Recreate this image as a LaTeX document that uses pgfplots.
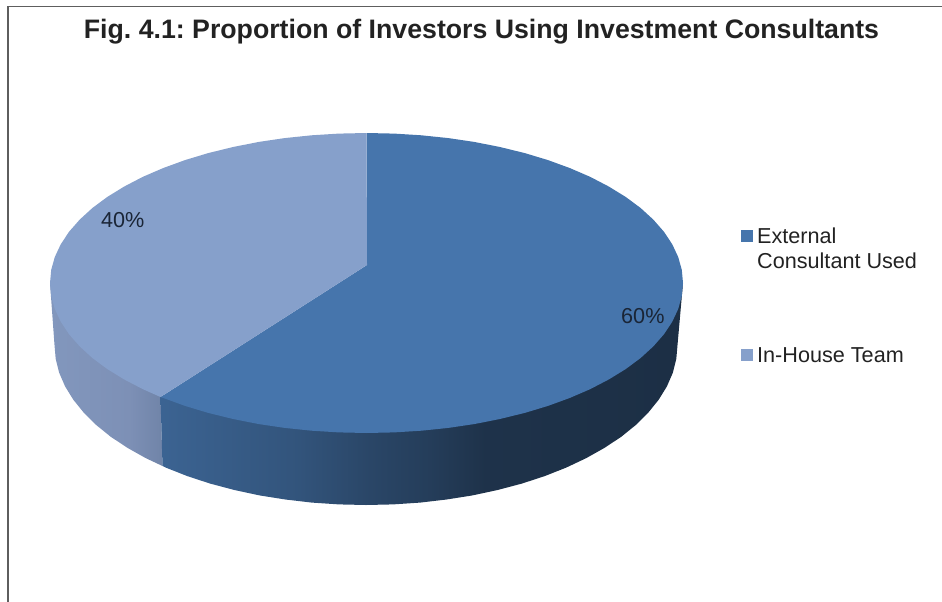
\documentclass[border=0pt]{standalone}
\usepackage{fontspec}
\setmainfont{Liberation Sans}
\usepackage{pgfplots}
\pgfplotsset{compat=1.18}
\frenchspacing

\definecolor{externalTop}{HTML}{4675AC}
\definecolor{inhouseTop}{HTML}{86A0CB}
\definecolor{frameGrey}{HTML}{5E5E5E}
\definecolor{labelInk}{HTML}{1A2536}
\definecolor{textInk}{HTML}{222222}

% Side walls of the slices: the visible part of a shading runs from 25bp to 75bp
\pgfdeclarehorizontalshading{externalWall}{100bp}{
  color(0bp)=(externalTop!85!black);
  color(25bp)=(externalTop!85!black);
  color(38bp)=(externalTop!72!black);
  color(45bp)=(externalTop!60!black);
  color(51bp)=(externalTop!52!black);
  color(56bp)=(externalTop!43!black);
  color(75bp)=(externalTop!40!black);
  color(100bp)=(externalTop!40!black)}
\definecolor{wallLeft}{HTML}{8297BD}
\definecolor{wallMid}{HTML}{7D90B6}
\definecolor{wallRight}{HTML}{7084A8}
\pgfdeclarehorizontalshading{inhouseWall}{100bp}{
  color(0bp)=(wallLeft);
  color(25bp)=(wallLeft);
  color(60bp)=(wallMid);
  color(75bp)=(wallRight);
  color(100bp)=(wallRight)}

\begin{document}
\begin{tikzpicture}
\begin{axis}[
  scale only axis, width=942bp, height=602bp,
  xmin=0, xmax=942, ymin=0, ymax=602, y dir=reverse,
  hide axis,
]
% Keep the whole canvas in the bounding box
\path (axis cs:0,0) rectangle (axis cs:942,602);

% Frame open towards the right and the bottom
\addplot[frameGrey, line width=1.5bp] coordinates {(8,602) (8,6.5) (942,6.5)};

% In-house slice, wall
\addplot[draw=none, shading=inhouseWall] coordinates {
  (50,283) (54.5,345) (55.7,358.9) (59.2,372.8) (65.1,386.4) (73.3,399.7) (83.7,412.6)
  (96.2,425) (110.8,436.8) (127.4,447.8) (145.7,458.1) (162.5,466) (160.5,397) (160,300)
} -- cycle;
% External slice, wall
\addplot[draw=none, shading=externalWall] coordinates {
  (160.5,397) (162.5,466) (165.8,467.6) (187.3,476.1) (210.2,483.6) (234.4,490) (259.5,495.4)
  (285.4,499.5) (311.9,502.6) (338.9,504.4) (366,505) (393.1,504.4) (420.1,502.6) (446.6,499.5)
  (472.5,495.4) (497.6,490) (521.8,483.6) (544.7,476.1) (566.2,467.6) (586.3,458.1) (604.6,447.8)
  (621.2,436.8) (635.8,425) (648.3,412.6) (658.7,399.7) (666.9,386.4) (672.8,372.8) (676.3,358.9)
  (677.5,345) (683,283) (400,283)
} -- cycle;

% External slice, 60 %, top face
\addplot[draw=none, fill=externalTop] coordinates {
  (367,265) (366.5,133) (394.1,133.6) (421.4,135.3) (448.4,138.1) (474.7,142) (500.3,147.1)
  (524.8,153.1) (548,160.1) (569.9,168.1) (590.3,176.9) (608.9,186.6) (625.8,197) (640.6,208)
  (653.3,219.6) (663.9,231.7) (672.2,244.2) (678.2,257) (681.8,269.9) (683,283) (681.8,296.1)
  (678.2,309) (672.2,321.8) (663.9,334.3) (653.3,346.4) (640.6,358) (625.8,369) (608.9,379.4)
  (590.3,389.1) (569.9,397.9) (548,405.9) (524.8,412.9) (500.3,418.9) (474.7,424) (448.4,427.9)
  (421.4,430.7) (394.1,432.4) (366.5,433) (338.9,432.4) (311.6,430.7) (284.6,427.9) (258.3,424)
  (232.7,418.9) (208.2,412.9) (185,405.9) (163.1,397.9) (160.5,397)
} -- cycle;
% In-house slice, 40 %, top face
\addplot[draw=none, fill=inhouseTop] coordinates {
  (367,265) (160.5,397) (142.7,389.1) (124.1,379.4) (107.2,369) (92.4,358) (79.7,346.4) (69.1,334.3)
  (60.8,321.8) (54.8,309) (51.2,296.1) (50,283) (51.2,269.9) (54.8,257) (60.8,244.2) (69.1,231.7)
  (79.7,219.6) (92.4,208) (107.2,197) (124.1,186.6) (142.7,176.9) (163.1,168.1) (185,160.1)
  (208.2,153.1) (232.7,147.1) (258.3,142) (284.6,138.1) (311.6,135.3) (338.9,133.6) (366.5,133)
} -- cycle;

% Legend swatches
\addplot[only marks, mark=square*, mark size=5.3bp, mark options={draw=externalTop, fill=externalTop, line width=0pt}]
  coordinates {(747,236)};
\addplot[only marks, mark=square*, mark size=5.3bp, mark options={draw=inhouseTop, fill=inhouseTop, line width=0pt}]
  coordinates {(747,355)};

\node[anchor=base, text=textInk, font=\fontsize{26.8}{30}\selectfont\bfseries]
  at (axis cs:481.5,39) {Fig. 4.1: Proportion of Investors Using Investment Consultants};
\node[anchor=base west, inner sep=0pt, text=labelInk, font=\fontsize{21.7}{26}\selectfont]
  at (axis cs:101,227) {40\%};
\node[anchor=base west, inner sep=0pt, text=labelInk, font=\fontsize{21.7}{26}\selectfont]
  at (axis cs:621,323) {60\%};
\node[anchor=base west, inner sep=0pt, text=textInk, font=\fontsize{21.7}{26}\selectfont]
  at (axis cs:757,243) {External};
\node[anchor=base west, inner sep=0pt, text=textInk, font=\fontsize{21.7}{26}\selectfont]
  at (axis cs:757,268) {Consultant Used};
\node[anchor=base west, inner sep=0pt, text=textInk, font=\fontsize{21.7}{26}\selectfont]
  at (axis cs:757,362) {In-House Team};
\end{axis}
\end{tikzpicture}
\end{document}
